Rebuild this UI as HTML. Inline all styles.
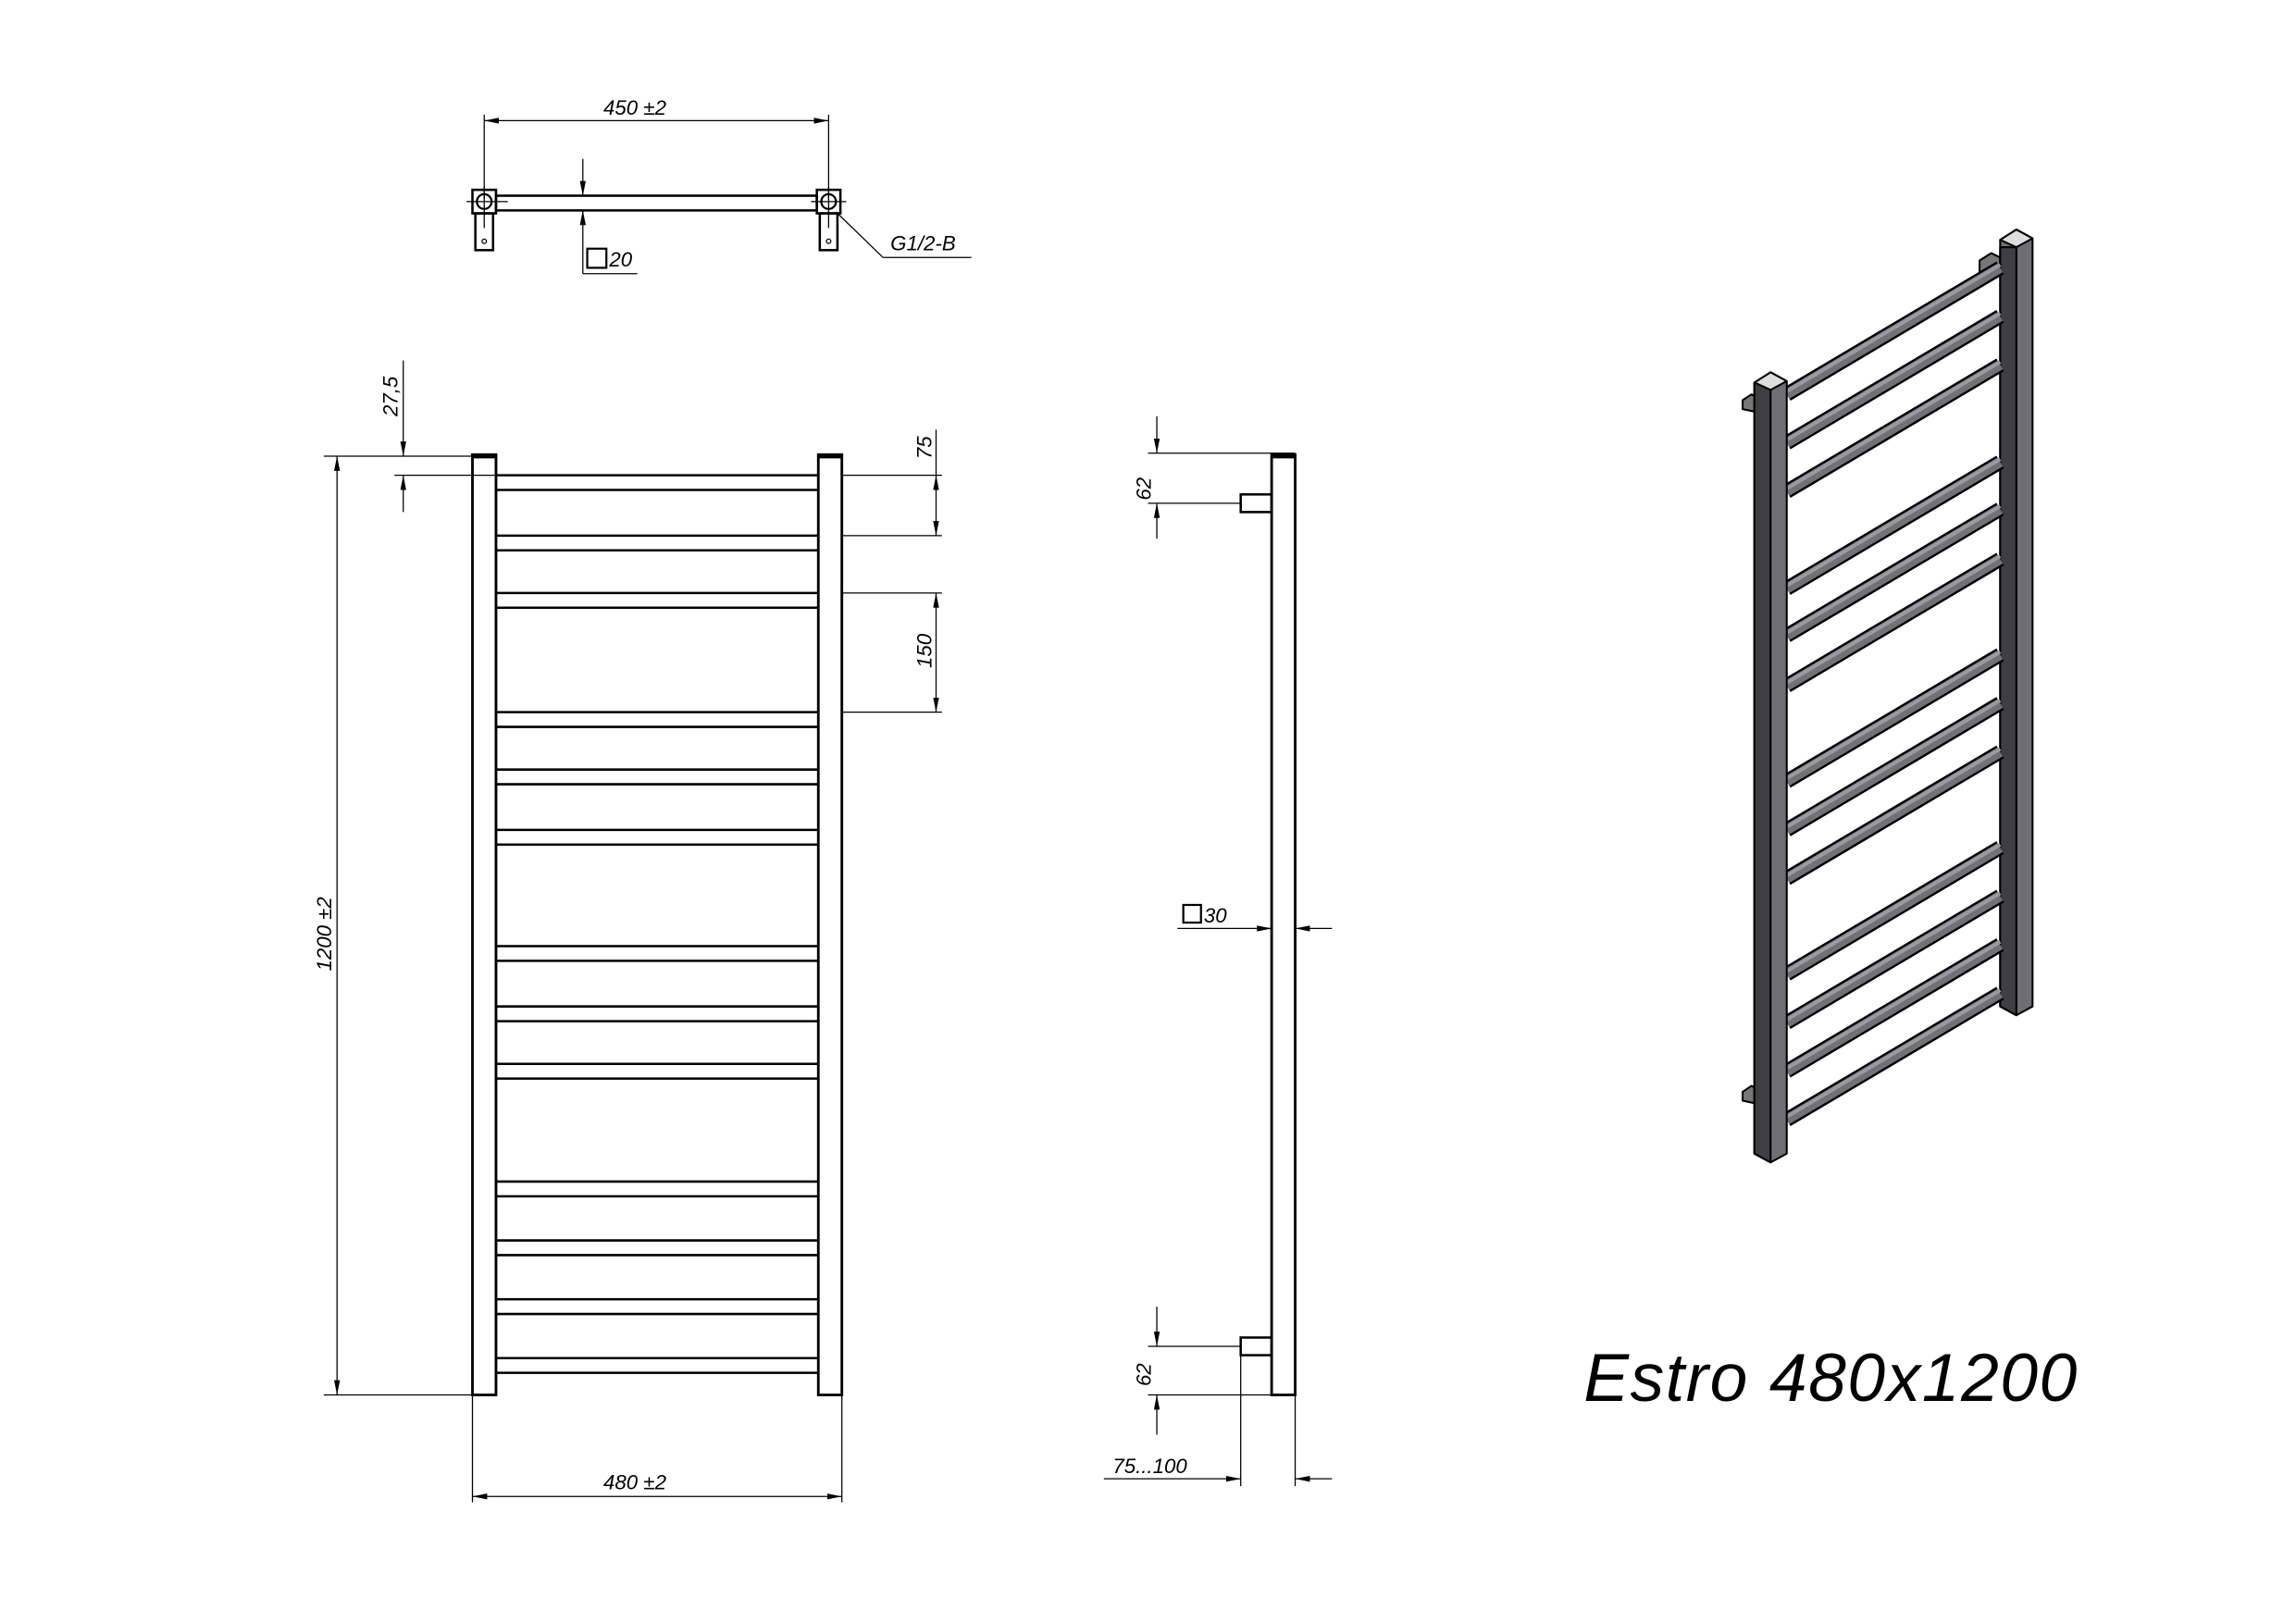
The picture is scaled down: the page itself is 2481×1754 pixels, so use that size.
<!DOCTYPE html>
<html><head><meta charset="utf-8"><style>
html,body{margin:0;padding:0;background:#fff}
svg{display:block}
text{font-family:"Liberation Sans",sans-serif;font-style:italic;fill:#000}
</style></head><body>
<svg width="2481" height="1754" viewBox="0 0 1560 1103" preserveAspectRatio="none" xmlns="http://www.w3.org/2000/svg">
<defs>
<marker id="a" viewBox="0 0 10 4" refX="10" refY="2" markerWidth="10" markerHeight="4" markerUnits="userSpaceOnUse" orient="auto-start-reverse"><path d="M0,0L10,2L0,4z" fill="#000"/></marker>
</defs>
<g stroke="#000" fill="none" stroke-width="0.8">
<line x1="329" y1="78" x2="329" y2="135"/><line x1="563" y1="78" x2="563" y2="135"/>
<line x1="329" y1="82" x2="563" y2="82" marker-start="url(#a)" marker-end="url(#a)"/>
<rect x="337" y="133" width="218" height="10" stroke-width="1.6"/>
<rect x="321" y="129" width="16" height="16" stroke-width="1.6"/>
<rect x="555" y="129" width="16" height="16" stroke-width="1.6"/>
<circle cx="329" cy="137" r="5" stroke-width="1.4"/><circle cx="563" cy="137" r="5" stroke-width="1.4"/>
<line x1="317" y1="137" x2="345" y2="137"/><line x1="329" y1="127" x2="329" y2="155"/>
<line x1="551" y1="137" x2="575" y2="137"/><line x1="563" y1="127" x2="563" y2="155"/>
<rect x="323" y="145" width="12" height="25" stroke-width="1.6"/>
<rect x="557" y="145" width="12" height="25" stroke-width="1.6"/>
<circle cx="329" cy="164" r="1.5"/><circle cx="563" cy="164" r="1.5"/>
<line x1="396" y1="108" x2="396" y2="133" marker-end="url(#a)"/>
<line x1="396" y1="186" x2="396" y2="143" marker-end="url(#a)"/>
<line x1="396" y1="186" x2="433" y2="186"/>
<rect x="399" y="169" width="13" height="13" stroke-width="1.4"/>
<line x1="568" y1="144" x2="600" y2="175"/><line x1="600" y1="175" x2="660" y2="175"/>
<rect x="321" y="309" width="16" height="639" stroke-width="1.8"/>
<rect x="556" y="309" width="16" height="639" stroke-width="1.8"/>
<line x1="321" y1="310" x2="337" y2="310" stroke-width="3"/><line x1="556" y1="310" x2="572" y2="310" stroke-width="3"/>
<g stroke-width="1.6">
<path d="M337 323H556M337 333H556M337 364H556M337 374H556M337 403H556M337 413H556M337 484H556M337 494H556M337 523H556M337 533H556M337 564H556M337 574H556M337 643H556M337 653H556M337 684H556M337 694H556M337 723H556M337 733H556M337 803H556M337 813H556M337 843H556M337 853H556M337 883H556M337 893H556M337 923H556M337 933H556"/>
</g>
<line x1="220" y1="310" x2="321" y2="310"/><line x1="220" y1="948" x2="321" y2="948"/>
<line x1="229" y1="310" x2="229" y2="948" marker-start="url(#a)" marker-end="url(#a)"/>
<line x1="268" y1="323" x2="337" y2="323"/>
<line x1="274" y1="245" x2="274" y2="310" marker-end="url(#a)"/>
<line x1="274" y1="348" x2="274" y2="323" marker-end="url(#a)"/>
<line x1="572" y1="323" x2="640" y2="323"/><line x1="572" y1="364" x2="640" y2="364"/>
<line x1="636" y1="292" x2="636" y2="323"/>
<line x1="636" y1="323" x2="636" y2="364" marker-start="url(#a)" marker-end="url(#a)"/>
<line x1="572" y1="403" x2="640" y2="403"/><line x1="572" y1="484" x2="640" y2="484"/>
<line x1="636" y1="403" x2="636" y2="484" marker-start="url(#a)" marker-end="url(#a)"/>
<line x1="321" y1="948" x2="321" y2="1021"/><line x1="572" y1="948" x2="572" y2="1021"/>
<line x1="321" y1="1017" x2="572" y2="1017" marker-start="url(#a)" marker-end="url(#a)"/>
<rect x="864" y="309" width="16" height="639" stroke-width="1.8"/>
<line x1="864" y1="310" x2="880" y2="310" stroke-width="3"/>
<rect x="843" y="336" width="21" height="12" stroke-width="1.6"/>
<rect x="843" y="909" width="21" height="12" stroke-width="1.6"/>
<line x1="780" y1="308" x2="880" y2="308"/><line x1="780" y1="342" x2="843" y2="342"/>
<line x1="786" y1="283" x2="786" y2="308" marker-end="url(#a)"/>
<line x1="786" y1="366" x2="786" y2="342" marker-end="url(#a)"/>
<line x1="780" y1="915" x2="843" y2="915"/><line x1="780" y1="948" x2="880" y2="948"/>
<line x1="786" y1="888" x2="786" y2="915" marker-end="url(#a)"/>
<line x1="786" y1="975" x2="786" y2="948" marker-end="url(#a)"/>
<line x1="800" y1="631" x2="864" y2="631" marker-end="url(#a)"/>
<line x1="905" y1="631" x2="880" y2="631" marker-end="url(#a)"/>
<rect x="804" y="615" width="12" height="12" stroke-width="1.4"/>
<line x1="843" y1="921" x2="843" y2="1010"/><line x1="880" y1="948" x2="880" y2="1010"/>
<line x1="750" y1="1005" x2="843" y2="1005" marker-end="url(#a)"/>
<line x1="905" y1="1005" x2="880" y2="1005" marker-end="url(#a)"/>
</g>
<g font-size="14">
<text x="410" y="78">450 ±2</text>
<text x="414" y="181">20</text>
<text x="605" y="170">G1/2-B</text>
<text x="410" y="1012">480 ±2</text>
<text x="818" y="627">30</text>
<text x="756" y="1001">75...100</text>
<text transform="translate(225,660) rotate(-90)">1200 ±2</text>
<text transform="translate(270,283) rotate(-90)">27,5</text>
<text transform="translate(633,312) rotate(-90)">75</text>
<text transform="translate(633,454) rotate(-90)">150</text>
<text transform="translate(782,340) rotate(-90)">62</text>
<text transform="translate(782,942) rotate(-90)">62</text>
</g>
<text x="1076" y="952" font-size="46" style="font-style:italic;letter-spacing:1px">Estro 480x1200</text>
<g stroke="#000" stroke-width="1.3" stroke-linejoin="round">
<polygon points="1345,177 1353,172 1359,175 1359,183 1345,185" fill="#777"/>
<polygon points="1359,163 1370,156 1381,162 1381,684 1370,690 1359,684" fill="#6f6f73"/>
<polygon points="1359,163 1370,156 1381,162 1370,168" fill="#ddd"/>
<line x1="1370" y1="168" x2="1370" y2="690"/>
<polygon points="1359,168 1370,168 1370,690 1359,684" fill="#3f3f42"/>
<g stroke-width="10" stroke="#000">
<path d="M1214,268L1359,182M1214,301L1359,215M1214,334L1359,248M1214,400L1359,314M1214,432L1359,346M1214,466L1359,380M1214,531L1359,445M1214,564L1359,478M1214,597L1359,511M1214,662L1359,576M1214,695L1359,609M1214,728L1359,642M1214,761L1359,675"/>
</g>
<g stroke-width="7" stroke="#717176">
<path d="M1214,268L1359,182M1214,301L1359,215M1214,334L1359,248M1214,400L1359,314M1214,432L1359,346M1214,466L1359,380M1214,531L1359,445M1214,564L1359,478M1214,597L1359,511M1214,662L1359,576M1214,695L1359,609M1214,728L1359,642M1214,761L1359,675"/>
</g>
<g stroke-width="2.5" stroke="#9a9aa0">
<path d="M1214,266L1359,180M1214,299L1359,213M1214,332L1359,246M1214,398L1359,312M1214,430L1359,344M1214,464L1359,378M1214,529L1359,443M1214,562L1359,476M1214,595L1359,509M1214,660L1359,574M1214,693L1359,607M1214,726L1359,640M1214,759L1359,673"/>
</g>
<polygon points="1184,272 1190,268 1198,272 1198,281 1184,278" fill="#777"/>
<polygon points="1184,742 1190,738 1198,742 1198,751 1184,748" fill="#777"/>
<polygon points="1192,260 1203,253 1214,259 1214,784 1203,790 1192,784" fill="#6f6f73"/>
<polygon points="1192,260 1203,253 1214,259 1203,265" fill="#ddd"/>
<polygon points="1192,260 1203,265 1203,790 1192,784" fill="#3f3f42"/>
</g>
</svg>
</body></html>
